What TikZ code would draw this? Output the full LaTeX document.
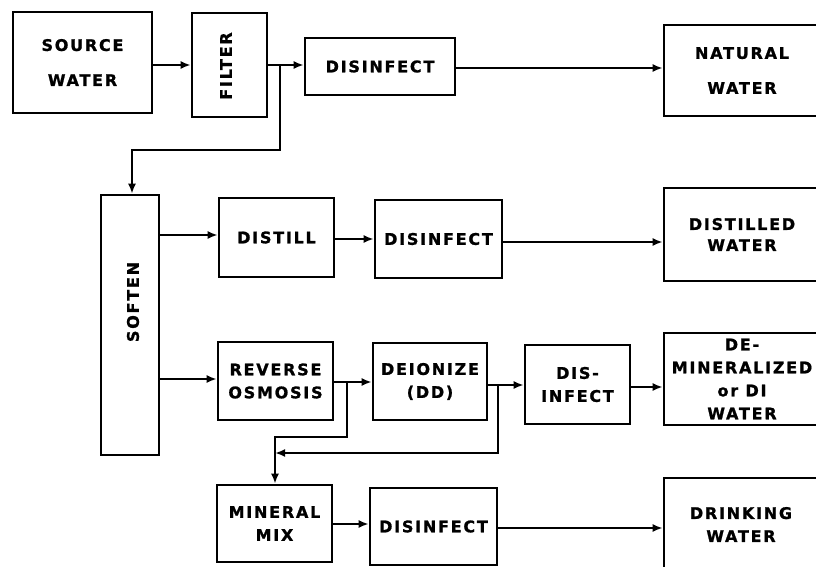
\documentclass[tikz,border=0pt]{standalone}
\usepackage{fontspec}
\setmainfont{DejaVu Sans}
\newfontfamily\labfont[LetterSpace=11, BoldFeatures={FakeBold=1.2}]{DejaVu Sans}
\usetikzlibrary{arrows.meta,calc}
\begin{document}
\begin{tikzpicture}[x=1pt,y=-1pt,
  box/.style={draw, line width=2.6pt, inner sep=0pt, align=center,
    font=\labfont\bfseries\fontsize{16}{23}\selectfont},
  vtext/.style={inner sep=0pt, font=\labfont\bfseries\fontsize{16}{23}\selectfont},
  conn/.style={line width=2.2pt},
  arr/.style={conn, -{Latex[length=10pt,width=8pt]}}]
\path[use as bounding box] (0,0) rectangle (816,567);
\clip (0,0) rectangle (816,567);
\fill[white] (0,0) rectangle (816,567);

% row 1
\node[box, minimum width=139, minimum height=101] (src) at (82.5,62.5) {SOURCE\\[12pt]WATER};
\node[box, minimum width=75, minimum height=104] (filt) at (229.5,65) {};
\node[vtext, rotate=90] (filtt) at (226,66) {FILTER};
\node[box, minimum width=150, minimum height=57] (dis1) at (380,66.5) {DISINFECT};
\node[box, minimum width=156, minimum height=91] (nat) at (742,70.5) {NATURAL\\[12pt]WATER};

% soften
\node[box, minimum width=58, minimum height=260] (soft) at (130,325) {};
\node[vtext, rotate=90] (softt) at (133,302) {SOFTEN};

% row 2
\node[box, minimum width=115, minimum height=79] (dist) at (276.5,237.5) {DISTILL};
\node[box, minimum width=127, minimum height=78] (dis2) at (438.5,239) {DISINFECT};
\node[box, minimum width=156, minimum height=93] (distw) at (742,234.5) {DISTILLED\\[-2pt]WATER};

% row 3
\node[box, minimum width=115, minimum height=78] (ro) at (275.5,381) {REVERSE\\OSMOSIS};
\node[box, minimum width=114, minimum height=77] (deion) at (430,381.5) {DEIONIZE\\(DD)};
\node[box, minimum width=105, minimum height=79] (dis3) at (577.5,384.5) {DIS-\\INFECT};
\node[box, minimum width=156, minimum height=92] (demin) at (742,379) {DE-\\MINERALIZED\\or DI\\WATER};

% row 4
\node[box, minimum width=115, minimum height=77] (mix) at (274.5,523.5) {MINERAL\\MIX};
\node[box, minimum width=127, minimum height=77] (dis4) at (433.5,526.5) {DISINFECT};
\node[box, minimum width=156, minimum height=100] (drink) at (742,528) {};
\node[vtext, align=center] (drinkt) at (741,524.5) {DRINKING\\WATER};

% junction coordinates
\coordinate (j1) at (280,65);
\coordinate (j2) at (347,382);
\coordinate (j3) at (275,437);
\coordinate (j4) at (498,385);

% connectors row 1
\draw[arr] (src.east |- 0,65) -- (filt.west |- 0,65);
\draw[arr] (filt.east |- j1) -- (dis1.west |- j1);
\draw[arr] (dis1.east |- 0,68) -- (nat.west |- 0,68);
\draw[arr] (j1) -- (280,150) -- (132,150) -- (soft.north -| 132,0);

% row 2
\draw[arr] (soft.east |- 0,235) -- (dist.west |- 0,235);
\draw[arr] (dist.east |- 0,239) -- (dis2.west |- 0,239);
\draw[arr] (dis2.east |- 0,242) -- (distw.west |- 0,242);

% row 3
\draw[arr] (soft.east |- 0,379) -- (ro.west |- 0,379);
\draw[arr] (ro.east |- j2) -- (deion.west |- j2);
\draw[arr] (deion.east |- j4) -- (dis3.west |- j4);
\draw[arr] (dis3.east |- 0,387) -- (demin.west |- 0,387);

% branches to mineral mix
\draw[arr] (j2) -- (347,437) -- (j3) -- (mix.north -| j3);
\draw[arr] (j4) -- (498,453) -- (j3 |- 0,453);

% row 4
\draw[arr] (mix.east |- 0,524) -- (dis4.west |- 0,524);
\draw[arr] (dis4.east |- 0,528) -- (drink.west |- 0,528);
\end{tikzpicture}
\end{document}
